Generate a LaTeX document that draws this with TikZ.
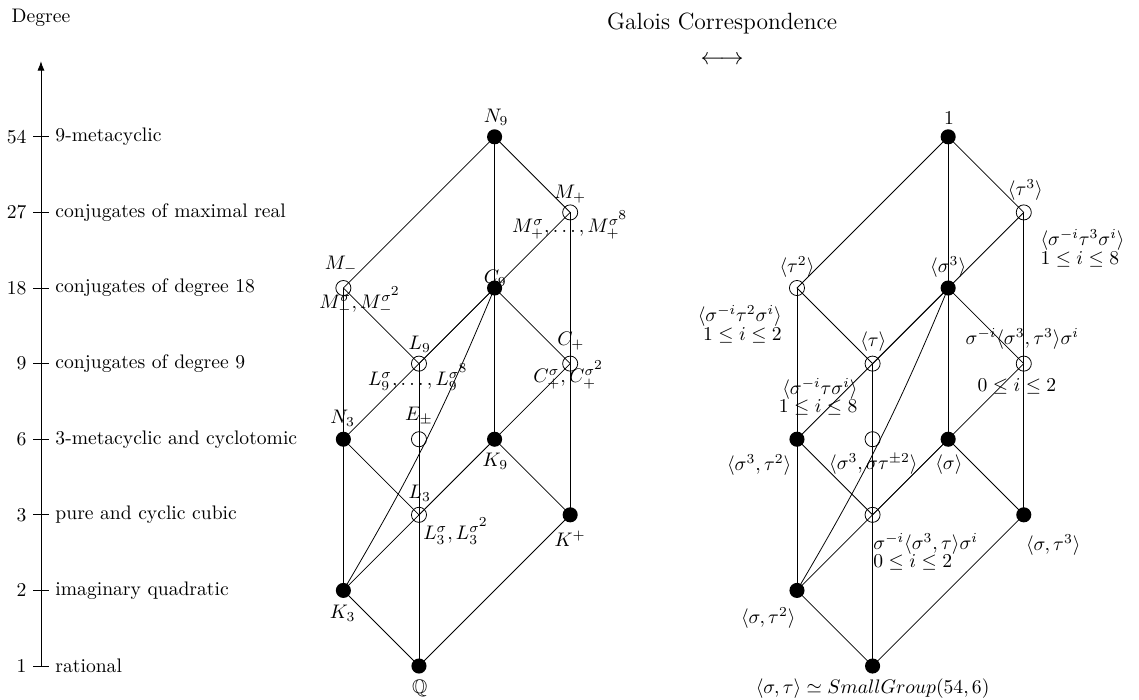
\documentclass[tikz,border=0pt]{standalone}
\usepackage{amsmath,amssymb}
\usetikzlibrary{arrows.meta}
\newcommand{\sigpow}[1]{\sigma^{\scriptstyle #1}}
\tikzset{
  fdot/.style={circle,fill=black,inner sep=0pt,minimum size=7.7pt},
  odot/.style={circle,draw=black,inner sep=0pt,minimum size=7.7pt},
  twoline/.style={align=#1},
}
\begin{document}
\begin{tikzpicture}[x=38.57pt,y=38.57pt]
\useasboundingbox (-0.542,-0.437) rectangle (14.524,8.810);
% degree axis
\coordinate (ax0) at (0,0); \coordinate (ax1) at (0,8);
\draw[-{Latex}] (ax0) -- (ax1);
\node (deg) at (0,8.58) {Degree};
\foreach \y/\dg/\txt in {0/1/rational,1/2/imaginary quadratic,2/3/pure and cyclic cubic,3/6/3-metacyclic and cyclotomic,4/9/conjugates of degree 9,5/18/conjugates of degree 18,6/27/conjugates of maximal real,7/54/9-metacyclic}{
  \draw (-0.1,\y) -- (0.1,\y);
  \node[anchor=east] (dg\dg) at (-0.1,\y) {\dg};
  \node[anchor=west] (dt\dg) at (0.1,\y) {\txt};
}
\node[font=\large] (title) at (9.01,8.50) {Galois Correspondence};
\node[font=\large] (corr) at (9.01,8.02) {$\longleftrightarrow$};
% field lattice
\node[fdot] (N9) at (6,7) {};
\node[odot] (Mp) at (7,6) {};
\node[odot] (Mm) at (4,5) {};  \node[fdot] (C9) at (6,5) {};
\node[odot] (L9) at (5,4) {};  \node[odot] (Cp) at (7,4) {};
\node[fdot] (N3) at (4,3) {};  \node[odot] (Ep) at (5,3) {};  \node[fdot] (K9) at (6,3) {};
\node[odot] (L3) at (5,2) {};  \node[fdot] (Kp) at (7,2) {};
\node[fdot] (K3) at (4,1) {};
\node[fdot] (Q) at (5,0) {};
\foreach \a/\b in {N9/Mm,N9/C9,N9/Mp,Mp/C9,Mp/Kp,Mm/L9,Mm/K3,C9/N3,C9/L9,C9/Cp,C9/K9,L9/Q,Cp/K3,K9/L3,N3/L3,K9/Kp,Kp/Q,K3/Q}
  \draw (\a.center) -- (\b.center);
\draw (C9.center) to[bend left=4] (K3.center);
\node (lN9) at (6.02,7.26) {$N_9$};
\node (lMp) at (7.00,6.24) {$M_+$};
\node (lMpc) at (7.00,5.83) {$M_+^{\sigma},\ldots,M_+^{\sigpow{8}}$};
\node (lMm) at (3.97,5.30) {$M_-$};
\node (lMmc) at (4.22,4.83) {$M_-^{\sigma},M_-^{\sigpow{2}}$};
\node (lC9) at (6.01,5.13) {$C_9$};
\node (lL9) at (5.01,4.26) {$L_9$};
\node (lL9c) at (4.99,3.82) {$L_9^{\sigma},\ldots,L_9^{\sigpow{8}}$};
\node (lCp) at (7.01,4.30) {$C_+$};
\node (lCpc) at (6.98,3.85) {$C_+^{\sigma},C_+^{\sigpow{2}}$};
\node (lN3) at (3.99,3.28) {$N_3$};
\node (lEp) at (5.00,3.31) {$E_\pm$};
\node (lK9) at (6.01,2.71) {$K_9$};
\node (lL3) at (5.01,2.29) {$L_3$};
\node (lL3c) at (5.49,1.79) {$L_3^{\sigma},L_3^{\sigpow{2}}$};
\node (lKp) at (7.00,1.68) {$K^+$};
\node (lK3) at (3.99,0.70) {$K_3$};
\node (lQ) at (5.01,-0.29) {$\mathbb{Q}$};
% subgroup lattice
\node[fdot] (G1) at (12,7) {};
\node[odot] (Gt3) at (13,6) {};
\node[odot] (Gt2) at (10,5) {};  \node[fdot] (Gs3) at (12,5) {};
\node[odot] (Gt) at (11,4) {};   \node[odot] (Gs3t3) at (13,4) {};
\node[fdot] (Gs3t2) at (10,3) {}; \node[odot] (Gs3st) at (11,3) {}; \node[fdot] (Gs) at (12,3) {};
\node[odot] (Gs3t) at (11,2) {}; \node[fdot] (Gst3) at (13,2) {};
\node[fdot] (Gst2) at (10,1) {};
\node[fdot] (Gst) at (11,0) {};
\foreach \a/\b in {G1/Gt2,G1/Gs3,G1/Gt3,Gt3/Gs3,Gt3/Gst3,Gt2/Gt,Gt2/Gst2,Gs3/Gs3t2,Gs3/Gt,Gs3/Gs3t3,Gs3/Gs,Gt/Gst,Gs3t3/Gst2,Gs/Gs3t,Gs3t2/Gs3t,Gs/Gst3,Gst3/Gst,Gst2/Gst}
  \draw (\a.center) -- (\b.center);
\draw (Gs3.center) to[bend left=4] (Gst2.center);
\node (lG1) at (12.01,7.25) {$1$};
\node (lGt3) at (13.02,6.30) {$\langle\tau^3\rangle$};
\node[twoline=left,anchor=west] (lGt3c) at (13.13,5.53) {$\langle\sigma^{-i}\tau^3\sigma^i\rangle$\\[-2.5pt]$1\le i\le 8$};
\node (lGt2) at (10.00,5.28) {$\langle\tau^2\rangle$};
\node[twoline=right,anchor=east] (lGt2c) at (9.89,4.52) {$\langle\sigma^{-i}\tau^2\sigma^i\rangle$\\[-2.5pt]$1\le i\le 2$};
\node (lGs3) at (12.00,5.28) {$\langle\sigma^3\rangle$};
\node (lGt) at (11.01,4.29) {$\langle\tau\rangle$};
\node[twoline=right] (lGtc) at (10.28,3.56) {$\langle\sigma^{-i}\tau\sigma^i\rangle$\\[-2.5pt]$1\le i\le 8$};
\node (lGs3t3) at (12.98,4.33) {$\sigma^{-i}\langle\sigma^3,\tau^3\rangle\sigma^i$};
\node (lGs3t3i) at (12.91,3.70) {$0\le i\le 2$};
\node (lGs3t2) at (9.50,2.66) {$\langle\sigma^3,\tau^2\rangle$};
\node (lGs3st) at (11.01,2.67) {$\langle\sigma^3,\sigma\tau^{\pm2}\rangle$};
\node (lGs) at (12.01,2.66) {$\langle\sigma\rangle$};
\node[twoline=left,anchor=west] (lGs3t) at (10.92,1.51) {$\sigma^{-i}\langle\sigma^3,\tau\rangle\sigma^i$\\[-2.5pt]$0\le i\le 2$};
\node (lGst3) at (13.39,1.60) {$\langle\sigma,\tau^3\rangle$};
\node (lGst2) at (9.62,0.63) {$\langle\sigma,\tau^2\rangle$};
\node (lGst) at (11.00,-0.30) {$\langle\sigma,\tau\rangle\simeq SmallGroup(54,6)$};
\end{tikzpicture}
\end{document}
